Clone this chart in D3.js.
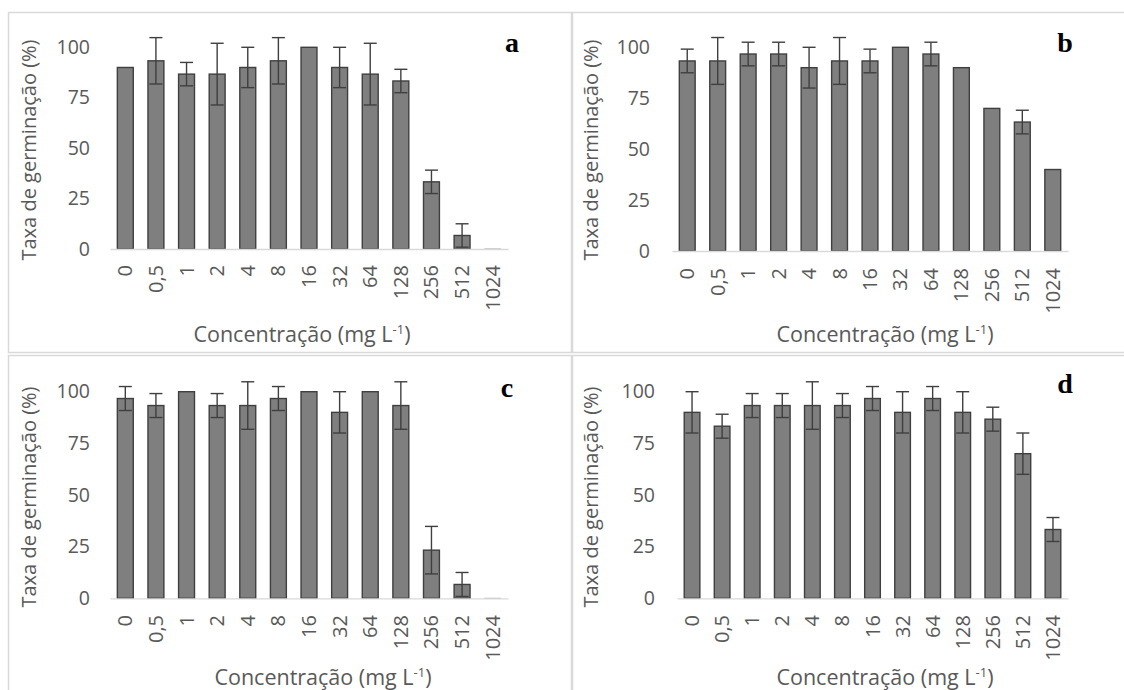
<!DOCTYPE html>
<html>
<head>
<meta charset="utf-8">
<script src="https://cdn.jsdelivr.net/npm/d3@7"></script>
<style>
  body { margin: 0; background: #fff; }
  text { font-family: "Open Sans", sans-serif; fill: #595959; }
</style>
</head>
<body>
<svg id="chart" width="1124" height="690"></svg>
<script>
// concentrations (mg L-1)
const categories = ["0", "0,5", "1", "2", "4", "8", "16", "32", "64", "128", "256", "512", "1024"];
const yTicks = [0, 25, 50, 75, 100];

// germination rate (%) and error per panel, 0 = no error bar
const meanA = [90, 93.3, 86.7, 86.7, 90, 93.3, 100, 90, 86.7, 83.3, 33.3, 6.7, 0];
const errA  = [0, 11.5, 5.8, 15.3, 10, 11.5, 0, 10, 15.3, 5.8, 5.8, 5.8, 0];
const meanB = [93.3, 93.3, 96.7, 96.7, 90, 93.3, 93.3, 100, 96.7, 90, 70, 63.3, 40];
const errB  = [5.8, 11.5, 5.8, 5.8, 10, 11.5, 5.8, 0, 5.8, 0, 0, 5.8, 0];
const meanC = [96.7, 93.3, 100, 93.3, 93.3, 96.7, 100, 90, 100, 93.3, 23.3, 6.7, 0];
const errC  = [5.8, 5.8, 0, 5.8, 11.5, 5.8, 0, 10, 0, 11.5, 11.5, 5.8, 0];
const meanD = [90, 83.3, 93.3, 93.3, 93.3, 93.3, 96.7, 90, 96.7, 90, 86.7, 70, 33.3];
const errD  = [10, 5.8, 5.8, 5.8, 11.5, 5.8, 5.8, 10, 5.8, 10, 5.8, 10, 5.8];

const yTitle = "Taxa de germinação (%)";

const svg = d3.select("#chart");

// panel frames
const frames = [
  {x: 8.5, y: 12.5, w: 563, h: 340},
  {x: 572.5, y: 12.5, w: 600, h: 340},
  {x: 8.5, y: 355.5, w: 563, h: 400},
  {x: 572.5, y: 355.5, w: 600, h: 400}
];
frames.forEach(f => {
  svg.append("rect").attr("x", f.x).attr("y", f.y).attr("width", f.w).attr("height", f.h)
    .attr("fill", "none").attr("stroke", "#d9d9d9").attr("stroke-width", 1.5);
});

const drawPanel = (p) => {
  const g = svg.append("g");
  const x = d3.scaleBand().domain(categories).range([p.x0, p.x1]).paddingInner(0.48).paddingOuter(0.24);
  const y = d3.scaleLinear().domain([0, 100]).range([p.yZero, p.yTop]);

  // y axis labels only (no line, no ticks)
  const yAxis = g.append("g").attr("transform", `translate(${p.yLabelX},0)`)
    .call(d3.axisLeft(y).tickValues(yTicks).tickSize(0).tickPadding(0));
  yAxis.select(".domain").remove();
  yAxis.selectAll("text").style("font-size", "19.5px").attr("fill", "#595959").attr("font-family", null);

  // bars (zero bars still get a hairline like excel)
  g.selectAll(".bar").data(p.mean).enter().append("rect")
    .attr("class", "bar")
    .attr("x", (d, i) => x(categories[i]))
    .attr("y", d => Math.min(y(d), y(0) - 0.1))
    .attr("width", x.bandwidth())
    .attr("height", d => Math.max(y(0) - y(d), 0.1))
    .attr("fill", "#7f7f7f")
    .attr("stroke", d => d > 0 ? "#3f3f3f" : "#a6a6a6")
    .attr("stroke-width", d => d > 0 ? 1.4 : 0.8);

  // x axis line
  const xAxis = g.append("g").attr("transform", `translate(0,${p.yZero})`)
    .call(d3.axisBottom(x).tickSize(0).tickFormat(""));
  xAxis.select(".domain").attr("stroke", "#d9d9d9").attr("stroke-width", 1.3);

  // error bars
  const cap = 6.5;
  const errs = p.mean.map((m, i) => ({m: m, e: p.err[i], c: categories[i]})).filter(d => d.e > 0);
  const eb = g.selectAll(".err").data(errs).enter().append("g").attr("class", "err")
    .attr("stroke", "#3f3f3f").attr("stroke-width", 1.4);
  eb.append("line")
    .attr("x1", d => x(d.c) + x.bandwidth() / 2).attr("x2", d => x(d.c) + x.bandwidth() / 2)
    .attr("y1", d => y(d.m + d.e)).attr("y2", d => y(Math.max(0, d.m - d.e)));
  eb.append("line")
    .attr("x1", d => x(d.c) + x.bandwidth() / 2 - cap).attr("x2", d => x(d.c) + x.bandwidth() / 2 + cap)
    .attr("y1", d => y(d.m + d.e)).attr("y2", d => y(d.m + d.e));
  eb.filter(d => d.m - d.e > 0).append("line")
    .attr("x1", d => x(d.c) + x.bandwidth() / 2 - cap).attr("x2", d => x(d.c) + x.bandwidth() / 2 + cap)
    .attr("y1", d => y(d.m - d.e)).attr("y2", d => y(d.m - d.e));

  // rotated category labels
  g.selectAll(".xlab").data(categories).enter().append("text")
    .attr("class", "xlab")
    .attr("transform", d => `translate(${x(d) + x.bandwidth() / 2},${p.xLabelTop}) rotate(-90)`)
    .attr("text-anchor", "end")
    .attr("dy", "0.35em")
    .style("font-size", "20px")
    .text(d => d);

  // axis titles
  g.append("text")
    .attr("transform", `translate(${p.yTitleX},${p.yTitleY}) rotate(-90)`)
    .attr("text-anchor", "middle")
    .style("font-size", "20px")
    .text(yTitle);

  const xt = g.append("text")
    .attr("x", p.xTitleX).attr("y", p.xTitleY)
    .attr("text-anchor", "middle")
    .style("font-size", "21.5px");
  xt.append("tspan").text("Concentração (mg L");
  xt.append("tspan").attr("dy", "-8").style("font-size", "13px").text("-1");
  xt.append("tspan").attr("dy", "8").text(")");

  // panel letter
  g.append("text")
    .attr("x", p.letterX).attr("y", p.letterY)
    .attr("text-anchor", "middle")
    .style("font-family", "'Liberation Serif', serif")
    .style("font-weight", "bold")
    .style("font-size", "28px")
    .style("fill", "#000")
    .text(p.letter);
};

drawPanel({mean: meanA, err: errA, letter: "a",
  x0: 110, x1: 508, yZero: 249, yTop: 47.3, yLabelX: 90,
  xLabelTop: 265, yTitleX: 36, yTitleY: 150, xTitleX: 302, xTitleY: 342,
  letterX: 512, letterY: 52});
drawPanel({mean: meanB, err: errB, letter: "b",
  x0: 672, x1: 1068, yZero: 251, yTop: 47.3, yLabelX: 650,
  xLabelTop: 268, yTitleX: 598, yTitleY: 150, xTitleX: 885, xTitleY: 342,
  letterX: 1065, letterY: 52});
drawPanel({mean: meanC, err: errC, letter: "c",
  x0: 110, x1: 508, yZero: 598.3, yTop: 391.7, yLabelX: 90,
  xLabelTop: 615, yTitleX: 36, yTitleY: 497, xTitleX: 323, xTitleY: 685,
  letterX: 507, letterY: 397});
drawPanel({mean: meanD, err: errD, letter: "d",
  x0: 677, x1: 1068, yZero: 598.3, yTop: 391.7, yLabelX: 655,
  xLabelTop: 615, yTitleX: 598, yTitleY: 497, xTitleX: 885, xTitleY: 685,
  letterX: 1065, letterY: 393});
</script>
</body>
</html>
